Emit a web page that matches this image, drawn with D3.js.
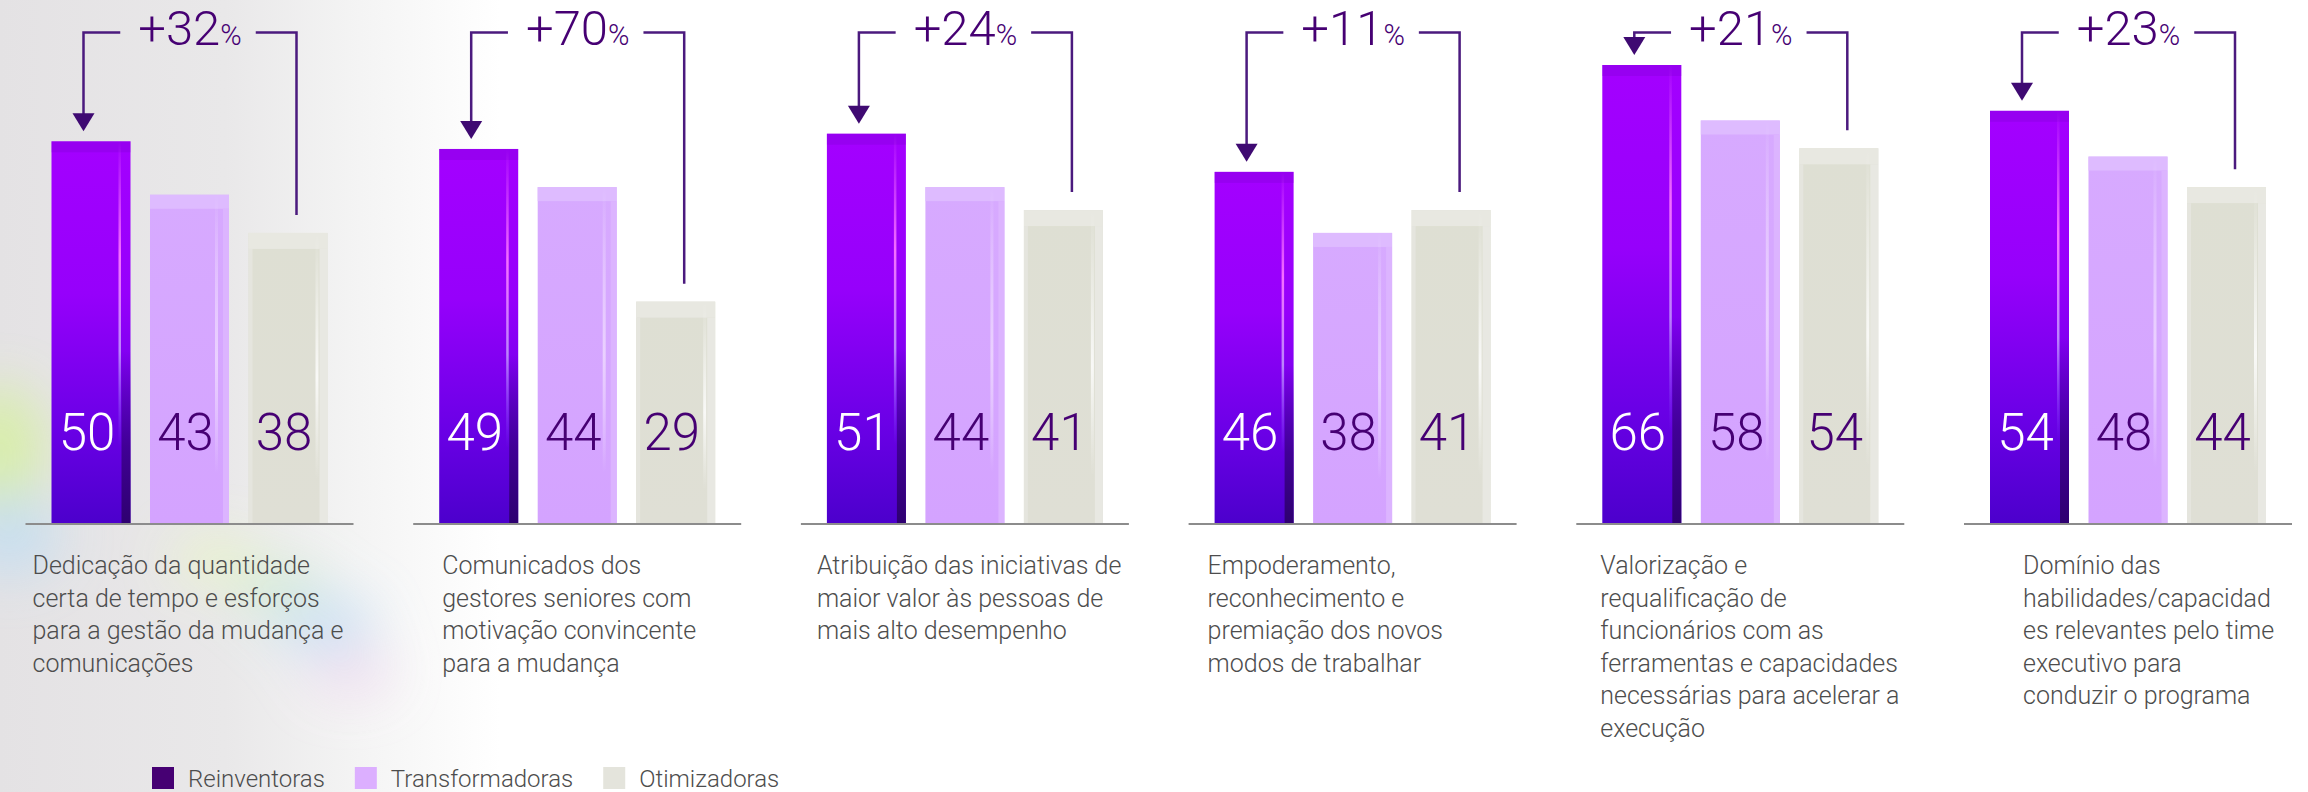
<!DOCTYPE html>
<html lang="pt">
<head>
<meta charset="utf-8">
<script src="https://cdn.jsdelivr.net/npm/d3@7"></script>
<style>
  html, body { margin: 0; padding: 0; background: #ffffff; }
  svg { display: block; }
  text { font-family: "Roboto", "Inter", "Noto Sans", sans-serif; font-weight: 300; }
</style>
</head>
<body>
<svg id="chart" width="2308" height="792"></svg>
<script>
// ---- data ----
const series = ["Reinventoras", "Transformadoras", "Otimizadoras"];
const categories = [
  "Dedicação da quantidade certa de tempo e esforços para a gestão da mudança e comunicações",
  "Comunicados dos gestores seniores com motivação convincente para a mudança",
  "Atribuição das iniciativas de maior valor às pessoas de mais alto desempenho",
  "Empoderamento, reconhecimento e premiação dos novos modos de trabalhar",
  "Valorização e requalificação de funcionários com as ferramentas e capacidades necessárias para acelerar a execução",
  "Domínio das habilidades/capacidades relevantes pelo time executivo para conduzir o programa"
];
const categoryLines = [
  ["Dedicação da quantidade", "certa de tempo e esforços", "para a gestão da mudança e", "comunicações"],
  ["Comunicados dos", "gestores seniores com", "motivação convincente", "para a mudança"],
  ["Atribuição das iniciativas de", "maior valor às pessoas de", "mais alto desempenho"],
  ["Empoderamento,", "reconhecimento e", "premiação dos novos", "modos de trabalhar"],
  ["Valorização e", "requalificação de", "funcionários com as", "ferramentas e capacidades", "necessárias para acelerar a", "execução"],
  ["Domínio das", "habilidades/capacidad", "es relevantes pelo time", "executivo para", "conduzir o programa"]
];
const reinventoras    = [50, 49, 51, 46, 66, 54];
const transformadoras = [43, 44, 44, 38, 58, 48];
const otimizadoras    = [38, 29, 41, 41, 54, 44];
const gapLabels = ["32", "70", "24", "11", "21", "23"];

// ---- layout ----
const W = 2308, H = 792;
const baseY = 523;          // baseline of every group
const ceilY = 65;           // highest point a bar may reach under the brackets
const commonMax = 60;       // shared value scale unless a group needs more room
const bracketY = 32.5;
const labelIndent = [7, 29, 16, 19, 24, 59];
const purpleInk = "#460073";
const lineInk = "#4b1a7e";

const svg = d3.select("#chart");
const defs = svg.append("defs");

// background: soft grey wash on the left with an iridescent haze
const bgGrad = defs.append("linearGradient").attr("id", "bgGrey").attr("x1", 0).attr("x2", 1).attr("y1", 0).attr("y2", 0);
bgGrad.append("stop").attr("offset", 0).attr("stop-color", "#e4e2e4");
bgGrad.append("stop").attr("offset", 0.45).attr("stop-color", "#e9e8e9");
bgGrad.append("stop").attr("offset", 0.72).attr("stop-color", "#f4f4f4");
bgGrad.append("stop").attr("offset", 1).attr("stop-color", "#ffffff");
const blur = defs.append("filter").attr("id", "haze").attr("x", "-50%").attr("y", "-50%").attr("width", "200%").attr("height", "200%");
blur.append("feGaussianBlur").attr("stdDeviation", 26);

svg.append("rect").attr("width", W).attr("height", H).attr("fill", "#ffffff");
svg.append("rect").attr("x", 0).attr("y", 0).attr("width", 500).attr("height", H).attr("fill", "url(#bgGrey)");
const hz = svg.append("g").attr("filter", "url(#haze)").attr("opacity", 0.85);
[
  [0, 450, 45, 65, "#d6f0a0"],
  [10, 535, 50, 40, "#c2def2"],
  [215, 560, 45, 22, "#eaf6c6"],
  [280, 590, 45, 28, "#d2ecd4"],
  [325, 625, 50, 30, "#c8e0f4"],
  [350, 672, 42, 24, "#f0dcf0"]
].forEach(([cx, cy, rx, ry, c]) =>
  hz.append("ellipse").attr("cx", cx).attr("cy", cy).attr("rx", rx).attr("ry", ry).attr("fill", c));

// bar gradients
function vGrad(id, stops) {
  const g = defs.append("linearGradient").attr("id", id).attr("x1", 0).attr("x2", 0).attr("y1", 0).attr("y2", 1);
  stops.forEach(([o, c, a]) => g.append("stop").attr("offset", o).attr("stop-color", c).attr("stop-opacity", a == null ? 1 : a));
}
vGrad("gReinv", [[0, "#a400ff"], [0.4, "#9600fb"], [0.75, "#6a00e6"], [1, "#4c00cc"]]);
vGrad("gReinvEdge", [[0, "#3a0088", 0], [0.55, "#3a0088", 0], [0.8, "#3a0088", 0.85], [1, "#2e0070", 1]]);
vGrad("gReinvGlow", [[0, "#ff7bff", 0], [0.3, "#ff7bff", 0.9], [0.55, "#c9a4ff", 0.8], [0.8, "#8a6cff", 0]]);
vGrad("gTrans", [[0, "#d7aaff"], [1, "#d4a3ff"]]);
vGrad("gTransGlow", [[0, "#ffffff", 0], [0.5, "#f2e2ff", 0.7], [0.85, "#ffffff", 0]]);
vGrad("gOtim", [[0, "#dedfd3"], [1, "#dfdfd5"]]);
vGrad("gOtimGlow", [[0, "#ffffff", 0], [0.5, "#ffffff", 0.8], [0.85, "#ffffff", 0]]);

// ---- scales ----
const xPanel = d3.scaleBand().domain(d3.range(categories.length)).range([25.5, 25.5 + 387.7 * 6]).paddingInner(0).paddingOuter(0);
const panelW = 328;
const xBar = d3.scaleBand().domain(series).range([26, 302]).paddingInner(0.198).paddingOuter(0);
const color = d3.scaleOrdinal().domain(series).range([purpleInk, "#dcafff", "#e4e4dc"]);

const rows = categories.map((c, i) => ({
  i, cat: c,
  values: [reinventoras[i], transformadoras[i], otimizadoras[i]],
  gap: gapLabels[i]
}));

const panels = svg.selectAll("g.panel").data(rows).join("g")
  .attr("class", "panel")
  .attr("transform", d => `translate(${xPanel(d.i)},0)`);

panels.each(function (d) {
  const g = d3.select(this);
  const y = d3.scaleLinear()
    .domain([0, Math.max(commonMax, d3.max(d.values))])
    .range([baseY, ceilY]);
  const bw = xBar.bandwidth();

  series.forEach((s, k) => {
    const v = d.values[k];
    const x0 = xBar(s), top = y(v), h = baseY - top;
    const bar = g.append("g").attr("class", "bar");
    if (k === 0) {
      bar.append("rect").attr("x", x0).attr("y", top).attr("width", bw).attr("height", h).attr("fill", "url(#gReinv)");
      bar.append("rect").attr("x", x0).attr("y", top).attr("width", bw).attr("height", 11).attr("fill", "#8000d8").attr("opacity", 0.35);
      bar.append("rect").attr("x", x0 + bw - 9).attr("y", top).attr("width", 9).attr("height", h).attr("fill", "url(#gReinvEdge)");
      bar.append("rect").attr("x", x0 + bw - 12).attr("y", top).attr("width", 2.5).attr("height", h).attr("fill", "url(#gReinvGlow)");
    } else if (k === 1) {
      bar.append("rect").attr("x", x0).attr("y", top).attr("width", bw).attr("height", h).attr("fill", "url(#gTrans)");
      bar.append("rect").attr("x", x0).attr("y", top).attr("width", bw).attr("height", 14).attr("fill", "#dfbcff").attr("opacity", 0.9);
      bar.append("rect").attr("x", x0 + bw - 6).attr("y", top + 14).attr("width", 6).attr("height", h - 14).attr("fill", "#dcb4ff");
      bar.append("rect").attr("x", x0 + bw - 14).attr("y", top).attr("width", 3).attr("height", h).attr("fill", "url(#gTransGlow)");
    } else {
      bar.append("rect").attr("x", x0).attr("y", top).attr("width", bw).attr("height", h).attr("fill", "url(#gOtim)");
      bar.append("rect").attr("x", x0).attr("y", top).attr("width", bw).attr("height", 16).attr("fill", "#e8e8e1");
      bar.append("rect").attr("x", x0 + bw - 8).attr("y", top + 16).attr("width", 8).attr("height", h - 16).attr("fill", "#e8e8e2");
      bar.append("rect").attr("x", x0).attr("y", top + 16).attr("width", 4).attr("height", h - 16).attr("fill", "#e5e5de");
      bar.append("rect").attr("x", x0 + bw - 12).attr("y", top).attr("width", 3).attr("height", h).attr("fill", "url(#gOtimGlow)");
    }
    g.append("text")
      .attr("x", x0 + bw / 2 - 4).attr("y", 450)
      .attr("text-anchor", "middle")
      .attr("font-size", 51)
      .attr("fill", k === 0 ? "#ffffff" : purpleInk)
      .text(v);
  });

  // baseline
  g.append("line").attr("x1", 0).attr("x2", panelW).attr("y1", baseY + 1).attr("y2", baseY + 1)
    .attr("stroke", "#8c8c8c").attr("stroke-width", 2);

  // bracket from Otimizadoras to Reinventoras
  const lx = xBar(series[0]) + 32;
  const rx = xBar(series[2]) + 48;
  const tipY = y(d.values[0]) - 10;
  const endY = y(d.values[2]) - 18;
  const label = g.append("text")
    .attr("x", (lx + rx) / 2).attr("y", 45)
    .attr("text-anchor", "middle")
    .attr("fill", purpleInk);
  label.append("tspan").attr("font-size", 49).text("+" + d.gap);
  label.append("tspan").attr("font-size", 29).text("%");
  const bb = label.node().getBBox();

  g.append("path")
    .attr("d", `M${bb.x - 18},${bracketY}H${lx}V${tipY - 16}`)
    .attr("fill", "none").attr("stroke", lineInk).attr("stroke-width", 2.5);
  g.append("path")
    .attr("d", `M${lx - 11},${tipY - 18}L${lx + 11},${tipY - 18}L${lx},${tipY}Z`)
    .attr("fill", "#3f0a72");
  g.append("path")
    .attr("d", `M${bb.x + bb.width + 14},${bracketY}H${rx}V${endY}`)
    .attr("fill", "none").attr("stroke", lineInk).attr("stroke-width", 2.5);

  // category label
  const t = g.append("text")
    .attr("x", labelIndent[d.i]).attr("y", 574)
    .attr("font-size", 25)
    .attr("fill", "#4d4d4d");
  categoryLines[d.i].forEach((ln, j) =>
    t.append("tspan").attr("x", labelIndent[d.i]).attr("dy", j === 0 ? 0 : 32.5).text(ln));
});

// legend
const legend = svg.append("g").attr("class", "legend").attr("transform", "translate(152,767)");
let lxPos = 0;
series.forEach(s => {
  const item = legend.append("g").attr("transform", `translate(${lxPos},0)`);
  item.append("rect").attr("width", 22).attr("height", 22).attr("fill", color(s));
  const tx = item.append("text").attr("x", 36).attr("y", 20).attr("font-size", 24).attr("fill", "#4d4d4d").text(s);
  lxPos += 36 + tx.node().getComputedTextLength() + 30;
});
</script>
</body>
</html>
